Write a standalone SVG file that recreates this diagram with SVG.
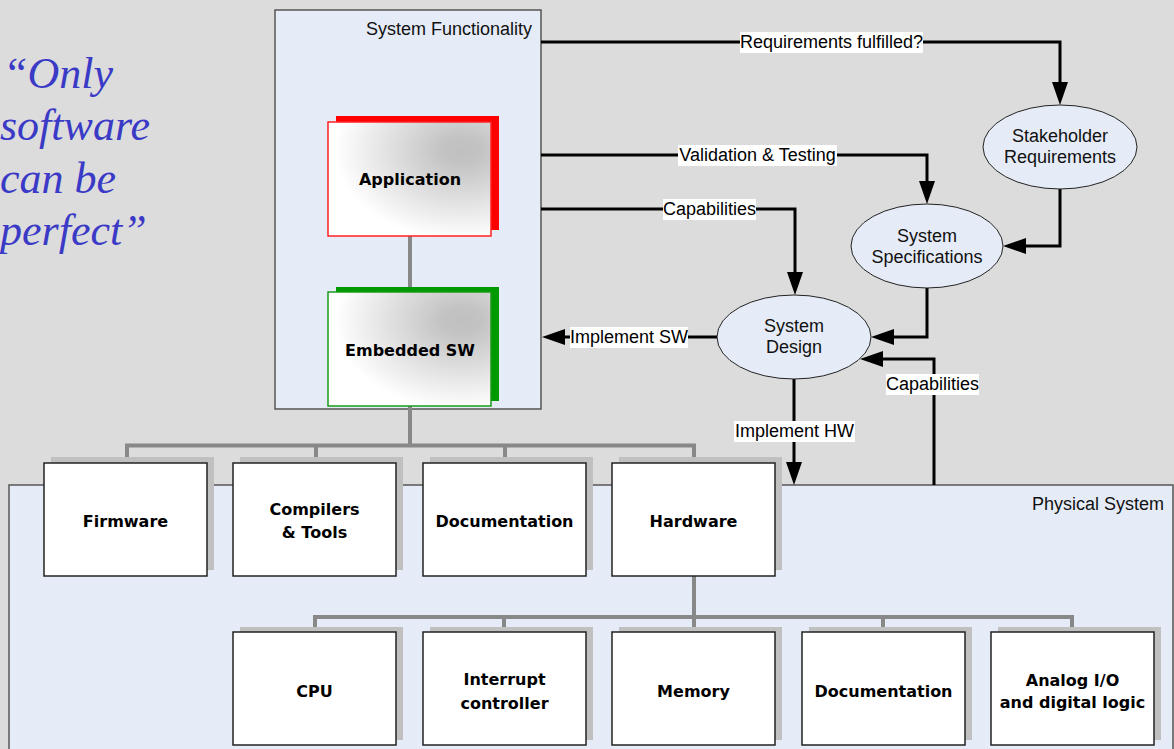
<svg xmlns="http://www.w3.org/2000/svg" width="1174" height="749" viewBox="0 0 1174 749">
<style>
.bg{fill:#dcdcdc}
.cont{fill:#e6ecf7;stroke:#555;stroke-width:1.5}
.ctitle{font-family:"Liberation Sans",Arial,sans-serif;font-size:18px;fill:#111;text-anchor:end}
.shadow{fill:#c0c0c0}
.box{fill:#fff;stroke:#222;stroke-width:1.5}
.btxt{font-family:"DejaVu Sans",Verdana,sans-serif;font-weight:bold;font-size:16px;fill:#000;text-anchor:middle}
.ell{fill:#e6ecf7;stroke:#222;stroke-width:1}
.etxt{font-family:"Liberation Sans",Arial,sans-serif;font-size:18px;fill:#111;text-anchor:middle}
.lbg{fill:#fff}
.ltxt{font-family:"Liberation Sans",Arial,sans-serif;font-size:18px;fill:#000;text-anchor:middle}
.arr{fill:none;stroke:#000;stroke-width:3}
.tree{fill:none;stroke:#888;stroke-width:4}
.quote{font-family:"Liberation Serif","Times New Roman",serif;font-style:italic;font-size:44px;fill:#3a3ac6}
</style>
<defs>
<marker id="ah" viewBox="0 0 23 16" markerWidth="23" markerHeight="16" refX="13" refY="8" orient="auto" markerUnits="userSpaceOnUse">
<path d="M0,0 L23,8 L0,16 z" fill="#000"/>
</marker>
<radialGradient id="gr" cx="0.82" cy="0.25" r="0.78">
<stop offset="0" stop-color="#c0c0c0"/>
<stop offset="0.15" stop-color="#c3c3c3"/>
<stop offset="1" stop-color="#ffffff"/>
</radialGradient>
</defs>
<rect class="bg" x="0" y="0" width="1174" height="749"/>

<g id="quote">
<text class="quote" x="3" y="88">“Only</text>
<text class="quote" x="0" y="140">software</text>
<text class="quote" x="0" y="193">can be</text>
<text class="quote" x="0" y="245">perfect”</text>
</g>

<g id="system-functionality">
<rect class="cont" x="275" y="10" width="266" height="399"/>
<text class="ctitle" x="532" y="35">System Functionality</text>
</g>

<g id="physical-system">
<rect class="cont" x="9" y="485" width="1164" height="280"/>
<text class="ctitle" x="1164" y="510">Physical System</text>
</g>

<g id="connectors">
<path class="tree" d="M410,236 V290"/>
<path class="tree" d="M410,406 V445.5"/>
<path class="tree" d="M127,457 V445.5 H694 V457 M316,445.5 V457 M505,445.5 V457"/>
<path class="tree" d="M694,576 V617"/>
<path class="tree" d="M315,627 V617 H1072 V627 M504,617 V627 M694,617 V627 M883,617 V627"/>
<path class="arr" d="M541,42 H1060 V95" marker-end="url(#ah)"/>
<path class="arr" d="M541,155 H927 V194" marker-end="url(#ah)"/>
<path class="arr" d="M541,209 H795 V285" marker-end="url(#ah)"/>
<path class="arr" d="M1060,189 V246 H1013" marker-end="url(#ah)"/>
<path class="arr" d="M927,288 V337 H881" marker-end="url(#ah)"/>
<path class="arr" d="M934,485 V359 H870" marker-end="url(#ah)"/>
<path class="arr" d="M718,337 H552" marker-end="url(#ah)"/>
<path class="arr" d="M794,379 V475" marker-end="url(#ah)"/>
<rect class="lbg" x="740" y="32" width="183" height="21"/>
<text class="ltxt" x="831.5" y="48">Requirements fulfilled?</text>
<rect class="lbg" x="678" y="145" width="159" height="21"/>
<text class="ltxt" x="757.5" y="161">Validation &amp; Testing</text>
<rect class="lbg" x="663" y="199" width="93" height="21"/>
<text class="ltxt" x="709.5" y="215">Capabilities</text>
<rect class="lbg" x="570" y="327" width="118" height="21"/>
<text class="ltxt" x="629" y="343">Implement SW</text>
<rect class="lbg" x="734" y="421" width="121" height="21"/>
<text class="ltxt" x="794.5" y="437">Implement HW</text>
<rect class="lbg" x="886" y="374" width="93" height="21"/>
<text class="ltxt" x="932.5" y="390">Capabilities</text>
</g>

<g id="application">
<rect x="336" y="116" width="163" height="114" fill="#ff0000"/>
<rect x="328" y="122" width="163" height="114" fill="url(#gr)" stroke="#ff2020" stroke-width="1.5"/>
<text class="btxt" x="410" y="185">Application</text>
</g>

<g id="embedded-sw">
<rect x="336" y="287" width="163" height="114" fill="#009900"/>
<rect x="328" y="292" width="163" height="114" fill="url(#gr)" stroke="#1a9a1a" stroke-width="1.5"/>
<text class="btxt" x="410" y="356">Embedded SW</text>
</g>

<g id="stakeholder-requirements">
<ellipse class="ell" cx="1060" cy="147" rx="77" ry="42"/>
<text class="etxt" x="1060" y="142">Stakeholder</text>
<text class="etxt" x="1060" y="163">Requirements</text>
</g>

<g id="system-specifications">
<ellipse class="ell" cx="927" cy="246" rx="76" ry="42"/>
<text class="etxt" x="927" y="242">System</text>
<text class="etxt" x="927" y="263">Specifications</text>
</g>

<g id="system-design">
<ellipse class="ell" cx="794" cy="337" rx="77" ry="42"/>
<text class="etxt" x="794" y="332">System</text>
<text class="etxt" x="794" y="353">Design</text>
</g>

<g id="firmware">
<rect class="shadow" x="51" y="457" width="163" height="113"/>
<rect class="box" x="44" y="463" width="163" height="113"/>
<text class="btxt" x="125.5" y="527">Firmware</text>
</g>
<g id="compilers-tools">
<rect class="shadow" x="240" y="457" width="163" height="113"/>
<rect class="box" x="233" y="463" width="163" height="113"/>
<text class="btxt" x="314.5" y="515">Compilers</text>
<text class="btxt" x="314.5" y="538">&amp; Tools</text>
</g>
<g id="documentation-1">
<rect class="shadow" x="430" y="457" width="163" height="113"/>
<rect class="box" x="423" y="463" width="163" height="113"/>
<text class="btxt" x="504.5" y="527">Documentation</text>
</g>
<g id="hardware">
<rect class="shadow" x="619" y="457" width="163" height="113"/>
<rect class="box" x="612" y="463" width="163" height="113"/>
<text class="btxt" x="693.5" y="527">Hardware</text>
</g>

<g id="cpu">
<rect class="shadow" x="240" y="627" width="163" height="113"/>
<rect class="box" x="233" y="632" width="163" height="113"/>
<text class="btxt" x="314.5" y="697">CPU</text>
</g>
<g id="interrupt-controller">
<rect class="shadow" x="430" y="627" width="163" height="113"/>
<rect class="box" x="423" y="632" width="163" height="113"/>
<text class="btxt" x="504.5" y="685">Interrupt</text>
<text class="btxt" x="504.5" y="709">controller</text>
</g>
<g id="memory">
<rect class="shadow" x="619" y="627" width="163" height="113"/>
<rect class="box" x="612" y="632" width="163" height="113"/>
<text class="btxt" x="693.5" y="697">Memory</text>
</g>
<g id="documentation-2">
<rect class="shadow" x="809" y="627" width="163" height="113"/>
<rect class="box" x="802" y="632" width="163" height="113"/>
<text class="btxt" x="883.5" y="697">Documentation</text>
</g>
<g id="analog-io">
<rect class="shadow" x="998" y="627" width="163" height="113"/>
<rect class="box" x="991" y="632" width="163" height="113"/>
<text class="btxt" x="1072.5" y="686" font-size="15.5">Analog I/O</text>
<text class="btxt" x="1072.5" y="708" font-size="15.5">and digital logic</text>
</g>
</svg>
